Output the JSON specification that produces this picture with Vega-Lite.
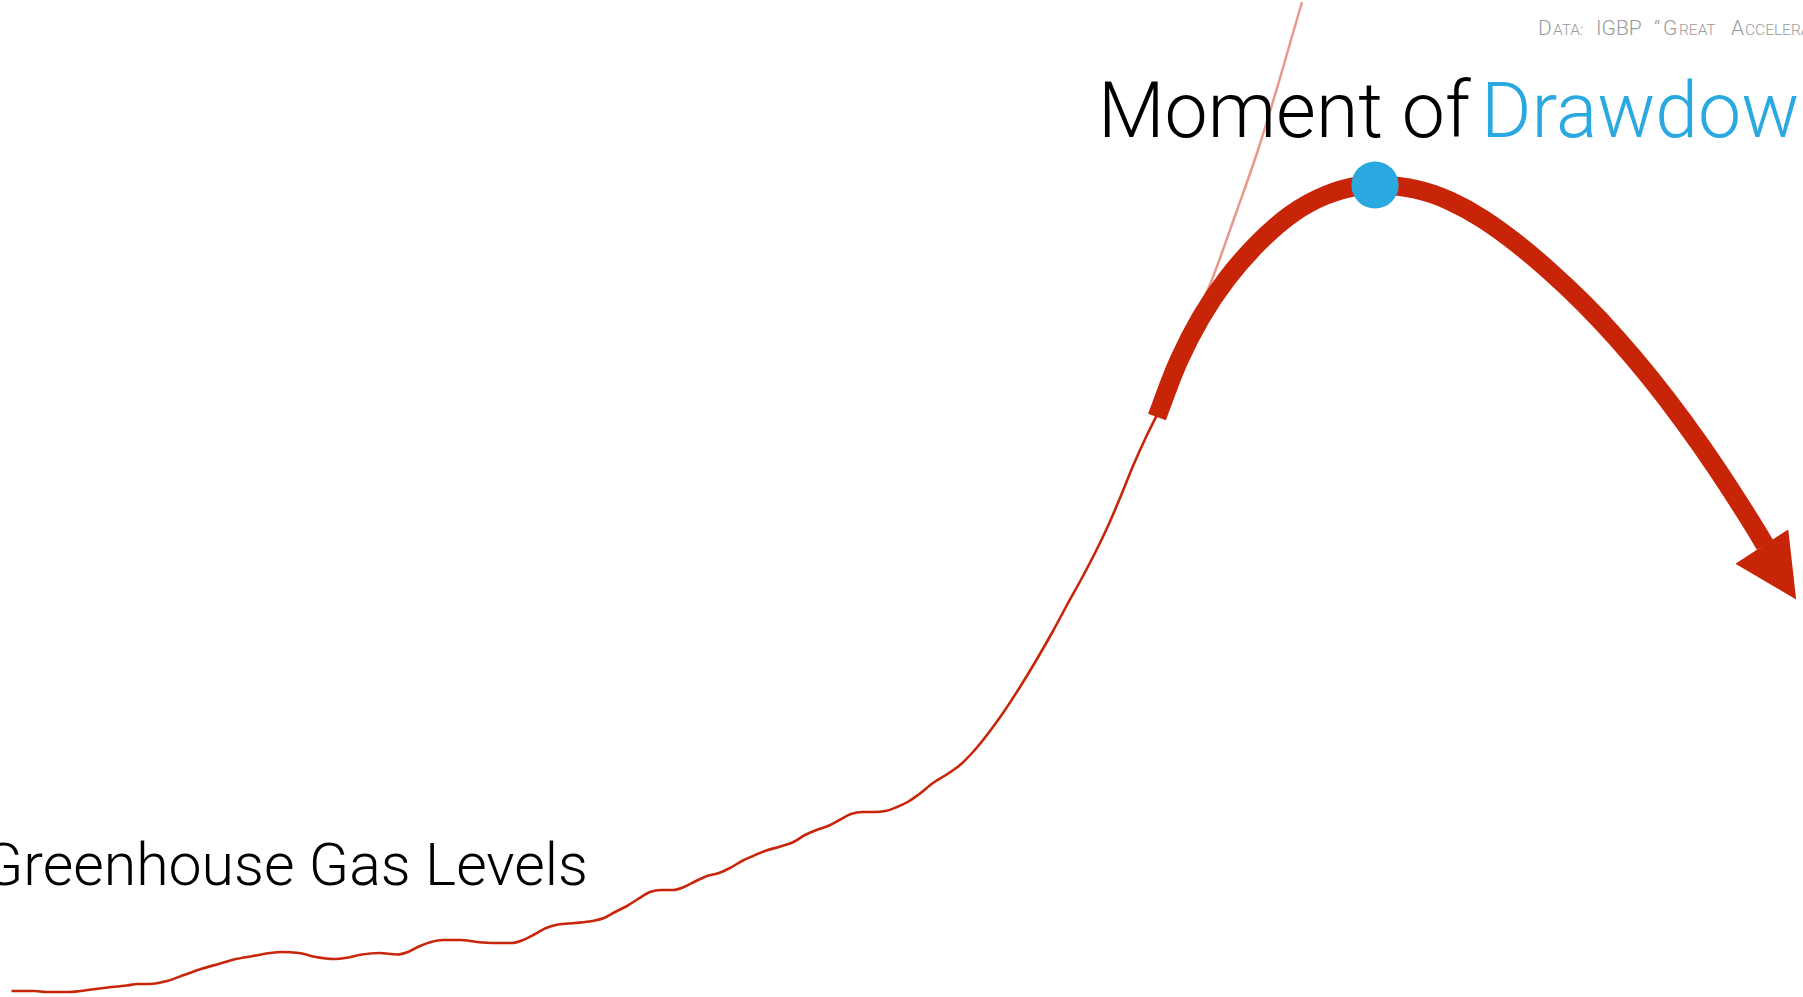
{
  "$schema": "https://vega.github.io/schema/vega-lite/v6.json",
  "width": 1803,
  "height": 997,
  "padding": 0,
  "autosize": {"type": "none"},
  "background": "white",
  "config": {"view": {"stroke": null}},
  "datasets": {
    "ghg": [
      {"t": 11.5, "level": 6}, {"t": 34.5, "level": 6}, {"t": 46, "level": 5}, {"t": 69, "level": 5},
      {"t": 80.5, "level": 6}, {"t": 103.5, "level": 9}, {"t": 126.5, "level": 11.5}, {"t": 138, "level": 13},
      {"t": 149.5, "level": 13}, {"t": 167, "level": 16}, {"t": 184, "level": 22}, {"t": 201, "level": 28},
      {"t": 218.5, "level": 33}, {"t": 236, "level": 38}, {"t": 253, "level": 41}, {"t": 270, "level": 44},
      {"t": 282, "level": 45}, {"t": 299, "level": 44}, {"t": 316, "level": 40}, {"t": 333.5, "level": 38},
      {"t": 345, "level": 39}, {"t": 362, "level": 42.5}, {"t": 379.5, "level": 44}, {"t": 397, "level": 42.5},
      {"t": 408, "level": 45}, {"t": 420, "level": 51}, {"t": 431, "level": 55}, {"t": 443, "level": 57},
      {"t": 460, "level": 57}, {"t": 477, "level": 55}, {"t": 494.5, "level": 54}, {"t": 512, "level": 54},
      {"t": 523, "level": 57}, {"t": 535, "level": 63}, {"t": 546, "level": 69}, {"t": 558, "level": 72.5},
      {"t": 575, "level": 74}, {"t": 592, "level": 76}, {"t": 604, "level": 79}, {"t": 615, "level": 85},
      {"t": 627, "level": 91}, {"t": 638, "level": 98}, {"t": 650, "level": 105}, {"t": 661, "level": 107},
      {"t": 673, "level": 107}, {"t": 684, "level": 110}, {"t": 696, "level": 116}, {"t": 707, "level": 121},
      {"t": 719, "level": 124}, {"t": 730, "level": 129}, {"t": 742, "level": 136}, {"t": 753, "level": 141},
      {"t": 765, "level": 146}, {"t": 782, "level": 151}, {"t": 793.5, "level": 155}, {"t": 805, "level": 162},
      {"t": 816.5, "level": 167}, {"t": 828, "level": 171}, {"t": 839.5, "level": 177}, {"t": 851, "level": 183},
      {"t": 862.5, "level": 185}, {"t": 874, "level": 185}, {"t": 885.5, "level": 186}, {"t": 897, "level": 190},
      {"t": 908.5, "level": 195.5}, {"t": 918, "level": 202}, {"t": 933, "level": 214}, {"t": 949, "level": 224},
      {"t": 960, "level": 232}, {"t": 973, "level": 245}, {"t": 990, "level": 266}, {"t": 1003, "level": 284},
      {"t": 1020, "level": 310}, {"t": 1037, "level": 338}, {"t": 1053, "level": 366}, {"t": 1067, "level": 392},
      {"t": 1083, "level": 421}, {"t": 1097, "level": 448}, {"t": 1108, "level": 471}, {"t": 1120, "level": 499},
      {"t": 1133, "level": 531}, {"t": 1147, "level": 562}, {"t": 1157, "level": 582}
    ],
    "projection": [
      {"t": 1155, "level": 579}, {"t": 1184, "level": 652}, {"t": 1213, "level": 720}, {"t": 1236, "level": 784},
      {"t": 1258, "level": 847}, {"t": 1280, "level": 919}, {"t": 1302, "level": 995}
    ],
    "drawdown": [
      {"t": 1157, "level": 580}, {"t": 1167, "level": 607}, {"t": 1177, "level": 634}, {"t": 1200, "level": 680},
      {"t": 1227, "level": 720}, {"t": 1257, "level": 754}, {"t": 1290, "level": 784}, {"t": 1327, "level": 804},
      {"t": 1360, "level": 812}, {"t": 1375, "level": 813}, {"t": 1417, "level": 809}, {"t": 1450, "level": 797},
      {"t": 1483, "level": 779}, {"t": 1517, "level": 754}, {"t": 1550, "level": 726}, {"t": 1583, "level": 695},
      {"t": 1617, "level": 659}, {"t": 1650, "level": 620}, {"t": 1683, "level": 577}, {"t": 1717, "level": 529},
      {"t": 1750, "level": 477}, {"t": 1758, "level": 464}, {"t": 1765, "level": 452}
    ],
    "peak": [{"t": 1375, "level": 812}],
    "arrowhead": [{"t": 1779, "level": 424}],
    "bigcaps": [
      {"t": 1538, "level": 962, "label": "D"},
      {"t": 1596, "level": 962, "label": "IGBP"},
      {"t": 1654, "level": 962, "label": "“"},
      {"t": 1663, "level": 962, "label": "G"},
      {"t": 1731, "level": 962, "label": "A"}
    ],
    "smallcaps": [
      {"t": 1553, "level": 962, "label": "ATA:"},
      {"t": 1679, "level": 962, "label": "REAT"},
      {"t": 1745, "level": 962, "label": "CCELERATION”"}
    ]
  },
  "encoding": {
    "x": {"field": "t", "type": "quantitative", "scale": {"domain": [0, 1803], "nice": false, "zero": false}, "axis": null},
    "y": {"field": "level", "type": "quantitative", "scale": {"domain": [0, 997], "nice": false, "zero": false}, "axis": null}
  },
  "layer": [
    {
      "data": {"name": "projection"},
      "mark": {"type": "line", "color": "#E8998B", "strokeWidth": 2.5, "interpolate": "monotone"}
    },
    {
      "data": {"name": "ghg"},
      "mark": {"type": "line", "color": "#C8260A", "strokeWidth": 2.6, "interpolate": "monotone"}
    },
    {
      "data": {"name": "drawdown"},
      "mark": {"type": "line", "color": "#C72408", "strokeWidth": 19, "strokeCap": "butt", "interpolate": "basis"}
    },
    {
      "data": {"name": "arrowhead"},
      "mark": {"type": "point", "shape": "M-1,-1L1,-1L0,1Z", "filled": true, "color": "#C72408", "opacity": 1, "size": 3969, "angle": 327, "strokeWidth": 0}
    },
    {
      "data": {"name": "peak"},
      "mark": {"type": "point", "shape": "circle", "filled": true, "color": "#29A9E0", "opacity": 1, "size": 2230, "strokeWidth": 0}
    },
    {
      "data": {"values": [{"t": 588, "level": 112, "label": "Greenhouse Gas Levels"}]},
      "mark": {"type": "text", "align": "right", "baseline": "alphabetic", "font": "Roboto", "fontWeight": 300, "fontSize": 59, "color": "#000000"},
      "encoding": {"text": {"field": "label"}}
    },
    {
      "data": {"values": [{"t": 1098, "level": 860, "label": "Moment of"}]},
      "mark": {"type": "text", "align": "left", "baseline": "alphabetic", "font": "Roboto", "fontWeight": 300, "fontSize": 77, "color": "#000000"},
      "encoding": {"text": {"field": "label"}}
    },
    {
      "data": {"values": [{"t": 1481, "level": 860, "label": "Drawdown"}]},
      "mark": {"type": "text", "align": "left", "baseline": "alphabetic", "font": "Roboto", "fontWeight": 300, "fontSize": 77, "color": "#29A9E0"},
      "encoding": {"text": {"field": "label"}}
    },
    {
      "data": {"name": "bigcaps"},
      "mark": {"type": "text", "align": "left", "baseline": "alphabetic", "font": "Roboto", "fontWeight": 300, "fontSize": 21, "color": "#9A9A9A"},
      "encoding": {"text": {"field": "label"}}
    },
    {
      "data": {"name": "smallcaps"},
      "mark": {"type": "text", "align": "left", "baseline": "alphabetic", "font": "Roboto", "fontWeight": 300, "fontSize": 15.5, "color": "#9A9A9A"},
      "encoding": {"text": {"field": "label"}}
    }
  ]
}
